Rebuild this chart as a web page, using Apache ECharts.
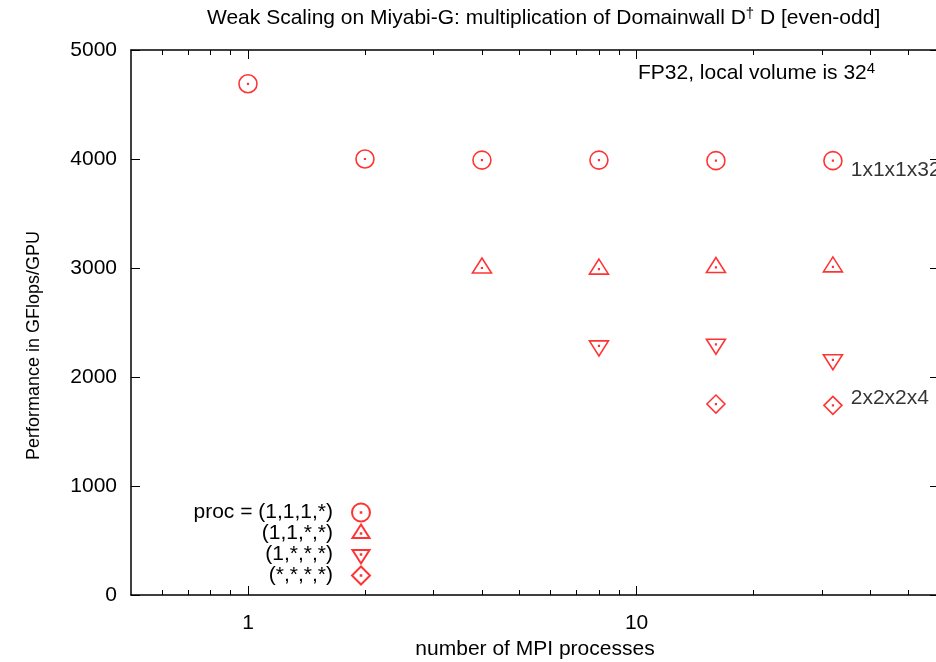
<!DOCTYPE html>
<html>
<head>
<meta charset="utf-8">
<script src="https://cdn.jsdelivr.net/npm/echarts@6/dist/echarts.min.js"></script>
<style>html,body{margin:0;padding:0;background:#fff;}#c{width:936px;height:662px;}</style>
</head>
<body>
<div id="c"></div>
<script>
// ---- data ----
const procsCircle = [1, 2, 4, 8, 16, 32];
const perfCircle = [4690, 4000, 3990, 3990, 3985, 3985];
const procsTriUp = [4, 8, 16, 32];
const perfTriUp = [3000, 2990, 3005, 3010];
const procsTriDown = [8, 16, 32];
const perfTriDown = [2285, 2300, 2158];
const procsDiamond = [16, 32];
const perfDiamond = [1752, 1740];
const seriesNames = ['(1,1,1,*)', '(1,1,*,*)', '(1,*,*,*)', '(*,*,*,*)'];
const xMajorTicks = [1, 10];
const xMinorTicks = [0.6, 0.7, 0.8, 0.9, 2, 3, 4, 5, 6, 7, 8, 9, 20, 30, 40, 50];
const yTicks = [0, 1000, 2000, 3000, 4000, 5000];
const circleLabel = '1x1x1x32';
const diamondLabel = '2x2x2x4';

const FONT = 'Liberation Sans';
const RED = '#ff0000';
const dot = 'M-0.3 -0.3L0.3 -0.3L0.3 0.3L-0.3 0.3Z';
const symCircle = 'path://M9 0A9 9 0 1 1 -9 0A9 9 0 1 1 9 0Z' + dot;
const symTriUp = 'path://M0 -10L9.5 5L-9.5 5Z M0 10' + dot;
const symTriDown = 'path://M0 10L9.5 -5L-9.5 -5Z M0 -10' + dot;
const symDiamond = 'path://M0 -9L9 0L0 9L-9 0Z' + dot;

function pairs(xs, ys) { return xs.map((x, i) => [x, ys[i]]); }

const circleData = pairs(procsCircle, perfCircle).map((v, i, a) => i === a.length - 1 ? {
  value: v,
  label: { show: true, position: 'right', distance: 8, offset: [0, 10], formatter: circleLabel,
    color: '#000', fontFamily: FONT, fontSize: 21 }
} : v);
const diamondData = pairs(procsDiamond, perfDiamond).map((v, i, a) => i === a.length - 1 ? {
  value: v,
  label: { show: true, position: 'right', distance: 8, offset: [0, -7], formatter: diamondLabel,
    color: '#000', fontFamily: FONT, fontSize: 21 }
} : v);

const itemStyle = { color: 'rgba(0,0,0,0)', borderColor: RED, borderWidth: 1.6 };
const xCommon = { type: 'log', logBase: 10, min: 0.5, max: 60, splitLine: { show: false }, gridIndex: 0 };

const option = {
  backgroundColor: '#fff',
  animation: false,
  textStyle: { fontFamily: FONT },
  title: {
    text: 'Weak Scaling on Miyabi-G: multiplication of Domainwall D{sup|†} D [even-odd]',
    left: 202, top: 1,
    textStyle: {
      fontFamily: FONT, fontSize: 21, fontWeight: 'normal', color: '#000', verticalAlign: 'bottom',
      rich: { sup: { fontFamily: FONT, fontSize: 15, color: '#000', verticalAlign: 'bottom', padding: [0, 0, 10, 0] } }
    }
  },
  grid: { left: 131, top: 50, right: -3, bottom: 67, containLabel: false, outerBoundsMode: 'none' },
  xAxis: [
    Object.assign({}, xCommon, {
      position: 'bottom',
      name: 'number of MPI processes', nameLocation: 'middle', nameGap: 42,
      nameTextStyle: { fontFamily: FONT, fontSize: 21, color: '#000' },
      axisLine: { show: true, lineStyle: { color: '#000', width: 1.5 } },
      axisTick: { show: true, inside: true, length: 9, customValues: xMajorTicks, lineStyle: { color: '#000', width: 1 } },
      axisLabel: { show: true, customValues: xMajorTicks, margin: 18, fontFamily: FONT, fontSize: 21, color: '#000' }
    }),
    Object.assign({}, xCommon, {
      position: 'bottom',
      axisLine: { show: false },
      axisTick: { show: true, inside: true, length: 5, customValues: xMinorTicks, lineStyle: { color: '#000', width: 1 } },
      axisLabel: { show: false }
    }),
    Object.assign({}, xCommon, {
      position: 'top',
      axisLine: { show: true, lineStyle: { color: '#000', width: 1.5 } },
      axisTick: { show: true, inside: true, length: 9, customValues: xMajorTicks, lineStyle: { color: '#000', width: 1 } },
      axisLabel: { show: false }
    }),
    Object.assign({}, xCommon, {
      position: 'top',
      axisLine: { show: false },
      axisTick: { show: true, inside: true, length: 5, customValues: xMinorTicks, lineStyle: { color: '#000', width: 1 } },
      axisLabel: { show: false }
    })
  ],
  yAxis: [
    {
      type: 'value', min: 0, max: 5000, interval: 1000, position: 'left',
      name: 'Performance in GFlops/GPU', nameLocation: 'middle', nameGap: 88,
      nameTextStyle: { fontFamily: FONT, fontSize: 18, color: '#000', padding: [0, 46, 0, 0] },
      splitLine: { show: false },
      axisLine: { show: true, lineStyle: { color: '#000', width: 1.5 } },
      axisTick: { show: true, inside: true, length: 9, customValues: yTicks, lineStyle: { color: '#000', width: 1 } },
      axisLabel: { show: true, customValues: yTicks, margin: 14, fontFamily: FONT, fontSize: 21, color: '#000',
        formatter: function (v) { return String(v); } }
    },
    {
      type: 'value', min: 0, max: 5000, interval: 1000, position: 'right',
      splitLine: { show: false },
      axisLine: { show: true, lineStyle: { color: '#000', width: 1.5 } },
      axisTick: { show: true, inside: true, length: 9, customValues: yTicks, lineStyle: { color: '#000', width: 1 } },
      axisLabel: { show: false }
    }
  ],
  legend: {
    orient: 'vertical', align: 'right', right: 565, top: 502, padding: 0,
    itemWidth: 46, itemHeight: 18, itemGap: 0, symbolKeepAspect: true,
    data: seriesNames,
    formatter: function (n) { return n === seriesNames[0] ? 'proc = ' + n : n; },
    textStyle: { fontFamily: FONT, fontSize: 21, color: '#000', lineHeight: 20 }
  },
  graphic: [{
    type: 'text', left: 638, top: 61,
    style: {
      text: 'FP32, local volume is 32{sup|4}',
      fontFamily: FONT, fontSize: 21, fill: '#000', verticalAlign: 'bottom',
      rich: { sup: { fontFamily: FONT, fontSize: 15, fill: '#000', verticalAlign: 'bottom', padding: [0, 0, 10, 0] } }
    }
  }],
  series: [
    { name: seriesNames[0], type: 'scatter', xAxisIndex: 0, yAxisIndex: 0, symbol: symCircle, symbolSize: [18, 18], itemStyle: itemStyle, data: circleData },
    { name: seriesNames[1], type: 'scatter', xAxisIndex: 0, yAxisIndex: 0, symbol: symTriUp, symbolSize: [19, 20], itemStyle: itemStyle, data: pairs(procsTriUp, perfTriUp) },
    { name: seriesNames[2], type: 'scatter', xAxisIndex: 0, yAxisIndex: 0, symbol: symTriDown, symbolSize: [19, 20], itemStyle: itemStyle, data: pairs(procsTriDown, perfTriDown) },
    { name: seriesNames[3], type: 'scatter', xAxisIndex: 0, yAxisIndex: 0, symbol: symDiamond, symbolSize: [18, 18], itemStyle: itemStyle, data: diamondData }
  ]
};

const chart = echarts.init(document.getElementById('c'), null, { renderer: 'canvas' });
chart.setOption(option);
</script>
</body>
</html>
